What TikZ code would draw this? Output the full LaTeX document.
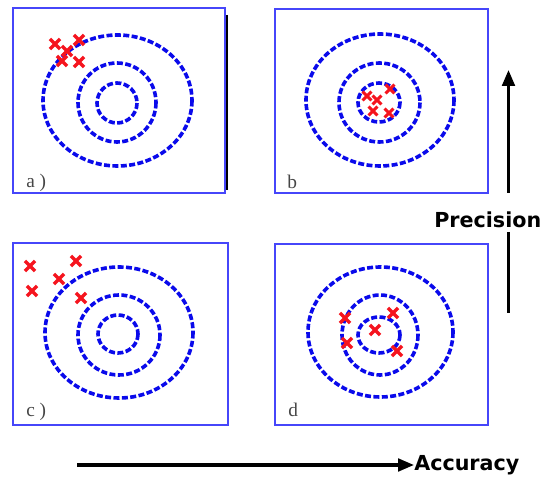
\documentclass[tikz,border=0pt]{standalone}
\usepackage{fontspec}
\setmainfont{Liberation Serif}
\setsansfont{DejaVu Sans}
\usetikzlibrary{arrows.meta,shapes.misc}
\definecolor{boxblue}{RGB}{70,70,250}
\definecolor{ringblue}{RGB}{10,10,235}
\definecolor{hitred}{RGB}{245,20,30}
\definecolor{lblgray}{RGB}{70,70,70}
\tikzset{
  panel/.style={draw=boxblue, line width=1.5pt},
  ring/.style={draw=ringblue, line width=2.7pt, dash pattern=on 4.5pt off 1.8pt},
  hit/.style={draw=hitred, cross out, line width=2.6pt, minimum size=5pt, inner sep=0pt},
  plabel/.style={text=lblgray, font=\fontsize{14.5}{14.5}\selectfont, anchor=west, inner sep=0pt},
  axislabel/.style={font=\sffamily\bfseries\fontsize{15.5}{15.5}\selectfont, anchor=west, inner sep=0pt},
  axisline/.style={line width=2.3pt, draw=black},
  axisarrow/.style={axisline, -{Triangle[length=12pt,width=9.5pt]}}
}
\begin{document}
\begin{tikzpicture}[x=0.75pt,y=-0.75pt]
\useasboundingbox (0,0) rectangle (544,477);

% panel a
\draw[panel] (13,8) rectangle (225,193);
\draw[line width=1.5pt] (227,15) -- (227,190);
\draw[ring] (117.5,100.5) ellipse (74.5 and 65.5);
\draw[ring] (117,102.5) ellipse (39 and 39.5);
\draw[ring] (117,103) ellipse (20 and 20);
\node[hit] (a1) at (55,44) {};
\node[hit] (a2) at (79,40) {};
\node[hit] (a3) at (67,51) {};
\node[hit] (a4) at (62,61) {};
\node[hit] (a5) at (79,62) {};
\node[plabel] (la) at (26,183) {a )};

% panel b
\draw[panel] (275,9) rectangle (488,193);
\draw[ring] (380,100) ellipse (74 and 66);
\draw[ring] (379.5,102.5) ellipse (40.5 and 39.5);
\draw[ring] (379,102.5) ellipse (21 and 19.5);
\node[hit,minimum size=4.5pt,line width=2.2pt] (b1) at (367,96) {};
\node[hit,minimum size=4.5pt,line width=2.2pt] (b2) at (390,89) {};
\node[hit,minimum size=4.5pt,line width=2.2pt] (b3) at (377,100) {};
\node[hit,minimum size=4.5pt,line width=2.2pt] (b4) at (373,111) {};
\node[hit,minimum size=4.5pt,line width=2.2pt] (b5) at (389,113) {};
\node[plabel] (lb) at (287,182) {b};

% panel c
\draw[panel] (13,243) rectangle (228,425);
\draw[ring] (119,332.5) ellipse (74 and 65.5);
\draw[ring] (119,335) ellipse (41 and 40);
\draw[ring] (118,334) ellipse (20 and 19);
\node[hit] (c1) at (30,266) {};
\node[hit] (c2) at (76,261) {};
\node[hit] (c3) at (59,279) {};
\node[hit] (c4) at (32,291) {};
\node[hit] (c5) at (81,298) {};
\node[plabel] (lc) at (26,412) {c )};

% panel d
\draw[panel] (275,244) rectangle (488,425);
\draw[ring] (380.5,332) ellipse (72.5 and 65);
\draw[ring] (380,335) ellipse (38 and 40);
\draw[ring] (379,335) ellipse (21 and 18);
\node[hit] (d1) at (345,318) {};
\node[hit] (d2) at (393,313) {};
\node[hit] (d3) at (375,330) {};
\node[hit] (d4) at (347,343) {};
\node[hit] (d5) at (397,351) {};
\node[plabel] (ld) at (288,410) {d};

% precision axis
\node[axislabel] (prec) at (434,220) {Precision};
\coordinate (pbot) at (508.5,193);
\coordinate (ptop) at (508.5,70);
\coordinate (plo) at (508.5,313);
\draw[axisarrow] (pbot) -- (ptop);
\draw[axisline] (508.5,232) -- (plo);

% accuracy axis
\node[axislabel] (acc) at (414,465) {Accuracy};
\coordinate (astart) at (77,465);
\draw[axisarrow] (astart) -- (acc.west);
\end{tikzpicture}
\end{document}
